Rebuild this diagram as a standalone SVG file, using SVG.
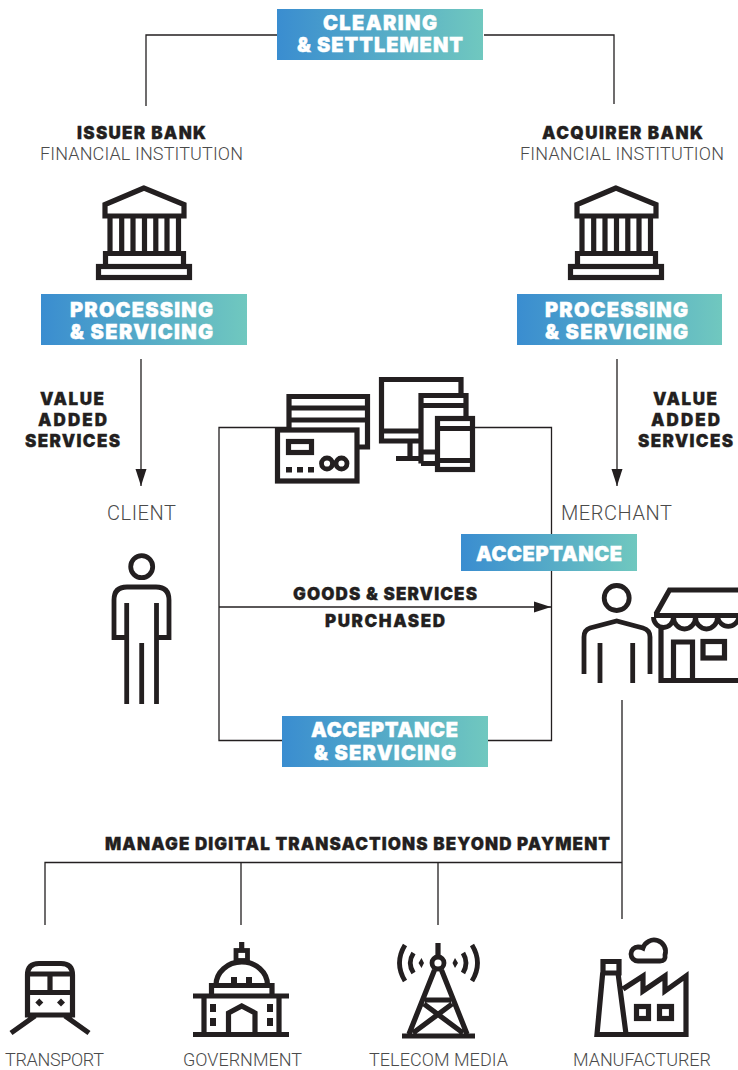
<svg xmlns="http://www.w3.org/2000/svg" xmlns:xlink="http://www.w3.org/1999/xlink" width="738" height="1070" viewBox="0 0 738 1070">
<style>
.bg{fill:#fff}
.i{fill:none;stroke:#231f20;stroke-width:5.2;stroke-linejoin:miter}
.t{fill:none;stroke:#231f20;stroke-width:4.8}
.f{fill:#231f20;stroke:none}
.c{fill:none;stroke:#231f20;stroke-width:1.3}
.w{font-family:"Inter","Liberation Sans",sans-serif;font-weight:900;font-size:20px;fill:#fff;stroke:#fff;stroke-width:.4;text-anchor:start}
.k{font-family:"Inter","Liberation Sans",sans-serif;font-weight:900;font-size:17px;fill:#231f20;stroke:#231f20;stroke-width:.3;text-anchor:start}
.l{font-family:"Roboto","Liberation Sans",sans-serif;font-weight:300;font-size:18px;fill:#4a4a4a;text-anchor:start}
</style>
<defs>
<linearGradient id="g" x1="0" y1="0" x2="1" y2="0"><stop offset="0" stop-color="#3a8dd0"/><stop offset="1" stop-color="#70c8bf"/></linearGradient>
<marker id="a" viewBox="0 0 17 12" refX="17" refY="6" markerWidth="17" markerHeight="12" markerUnits="userSpaceOnUse" orient="auto"><path d="M0 .5L17 6L0 11.500Z" fill="#231f20"/></marker>
<g id="bank">
<path class="i" d="M144 188L105 204.500V216H184V204.500Z"/>
<path class="i" d="M110 216V253M121.700 216V253M133 216V253M144.500 216V253M155.800 216V253M167 216V253M178.500 216V253"/>
<path class="i" d="M105.500 266V253.500H183.500V266"/>
<rect class="i" x="98.500" y="266.500" width="91" height="11"/>
</g>
</defs>
<rect class="bg" width="738" height="1070"/>

<g id="connectors">
<path class="c" d="M146 106V35H277M484 35H614V104"/>
<path class="c" d="M141 359V486" marker-end="url(#a)"/>
<path class="c" d="M617 359V486" marker-end="url(#a)"/>
<path class="c" d="M290 427.500H219V740.500H282M488 740.500H551.500V427.500H474"/>
<path class="c" d="M219 607H551" marker-end="url(#a)"/>
<path class="c" d="M622 700V919M45 925V862.500H622M241 862.500V925M438 862.500V925"/>
</g>

<g id="clearing-settlement">
<rect x="277" y="9" width="206" height="51" fill="url(#g)"/>
<text class="w" x="323" y="30" textLength="114">CLEARING</text>
<text class="w" x="297" y="52" textLength="166">&amp; SETTLEMENT</text>
</g>

<g id="issuer-bank">
<text class="k" x="77" y="138.500" textLength="129">ISSUER BANK</text>
<text class="l" x="40" y="159.500" textLength="203">FINANCIAL INSTITUTION</text>
<use xlink:href="#bank" href="#bank"/>
</g>
<g id="acquirer-bank">
<text class="k" x="542" y="138.500" textLength="161">ACQUIRER BANK</text>
<text class="l" x="520" y="159.500" textLength="204">FINANCIAL INSTITUTION</text>
<use xlink:href="#bank" href="#bank" x="472"/>
</g>

<g id="processing-left">
<rect x="41" y="294" width="206" height="51" fill="url(#g)"/>
<text class="w" x="70" y="316.500" textLength="143">PROCESSING</text>
<text class="w" x="70" y="339" textLength="143">&amp; SERVICING</text>
</g>
<g id="processing-right">
<rect x="517" y="294" width="205" height="51" fill="url(#g)"/>
<text class="w" x="545" y="316.500" textLength="143">PROCESSING</text>
<text class="w" x="545" y="339" textLength="143">&amp; SERVICING</text>
</g>

<g id="value-left">
<text class="k" x="40" y="404.500" textLength="64">VALUE</text>
<text class="k" x="38" y="425.500" textLength="69">ADDED</text>
<text class="k" x="25" y="446.500" textLength="95">SERVICES</text>
</g>
<g id="value-right">
<text class="k" x="653" y="404.500" textLength="64">VALUE</text>
<text class="k" x="651" y="425.500" textLength="69">ADDED</text>
<text class="k" x="638" y="446.500" textLength="95">SERVICES</text>
</g>

<g id="cards-devices">
<path class="i" d="M289 428V396.500H367.500V447H358M289 408H367.500M289 420H367.500"/>
<rect x="277.500" y="430" width="79.500" height="51" fill="#fff" stroke="#231f20" stroke-width="5.200"/>
<rect class="i" x="288.500" y="441.500" width="23" height="11"/>
<path class="f" d="M286 467h6v5.500h-6zM297 467h6v5.500h-6zM308 467h6v5.500h-6z"/>
<circle class="t" cx="327" cy="463.500" r="5.500"/><circle class="t" cx="341.500" cy="463.500" r="5.500"/>
<path class="i" d="M461 394V379.500H381.500V441H419M381.500 431H419M410 441V458M396 458.500H419"/>
<path class="i" d="M421 463.500V395.500H466V416M421 405.500H466M421 452H437M421 463.500H437"/>
<rect x="437.500" y="418.500" width="35" height="51" fill="none" stroke="#231f20" stroke-width="5.200"/>
<path class="i" d="M437.500 428.500H472.500M437.500 460.500H472.500"/>
</g>

<g id="client">
<text class="l" style="font-size:20px" x="107" y="520" textLength="69">CLIENT</text>
<circle class="t" cx="141.700" cy="566.700" r="11"/>
<path class="t" d="M126.700 603V704M141.700 643V704M156.500 603V704M126.700 637.500H114V600Q114 587 127 587H156Q169 587 169 600V637.500H156.500"/>
</g>

<g id="merchant">
<text class="l" style="font-size:20px" x="561" y="520" textLength="111">MERCHANT</text>
<circle class="t" cx="616.700" cy="598" r="12.500"/>
<path class="t" d="M584 674V637Q584 630 590 628L616.700 621L643 628Q650 630 650 637V674M600 643V683M632.700 643V683"/>
<path class="i" d="M656 614L669.500 590H738M654 615.500H738"/>
<path class="t" d="M653.500 617A10 10.500 0 0 0 673.500 617A11 12 0 0 0 695.500 617A11 12 0 0 0 717.500 617A11 12 0 0 0 739 617"/>
<path class="i" d="M661 627V680.500H738"/>
<path class="i" d="M673.500 680V642H692.500V680"/>
<rect class="i" x="703" y="641.500" width="21.500" height="16.500"/>
</g>

<g id="acceptance">
<rect x="461" y="534" width="176" height="37" fill="url(#g)"/>
<text class="w" x="476" y="560.500" textLength="146">ACCEPTANCE</text>
</g>

<g id="goods-services">
<text class="k" x="293" y="599.500" textLength="184">GOODS &amp; SERVICES</text>
<text class="k" x="325" y="626.500" textLength="120">PURCHASED</text>
</g>

<g id="acceptance-servicing">
<rect x="282" y="716" width="206" height="51" fill="url(#g)"/>
<text class="w" x="311" y="737" textLength="147">ACCEPTANCE</text>
<text class="w" x="314" y="759.500" textLength="142">&amp; SERVICING</text>
</g>

<text class="k" id="manage" x="105" y="849.500" textLength="505">MANAGE DIGITAL TRANSACTIONS BEYOND PAYMENT</text>

<g id="transport">
<path class="i" d="M27.500 1015V975Q27.500 963.500 39 963.500H61Q72.500 963.500 72.500 975V1015ZM27.500 974H72.500M27.500 992.500H72.500M50 974V992.500M35 1016L11 1033M65 1016L89 1033"/>
<path class="f" d="M39.300 998.500l4 4-4 4-4-4zM61 998.500l4 4-4 4-4-4z"/>
<text class="l" x="5" y="1066" textLength="99">TRANSPORT</text>
</g>

<g id="government">
<path class="i" d="M241.700 942V950"/>
<rect class="t" x="236" y="950.500" width="11.500" height="10"/>
<path class="i" d="M216 985A25.700 23 0 0 1 267.500 985"/>
<path class="f" d="M231 977h6v7h-6zM246 977h6v7h-6z"/>
<path class="i" d="M211.500 994V985.500H272V994"/>
<path class="i" d="M193 996H289M204 998V1034M279 998V1034M193 1034.500H289"/>
<path class="i" d="M228.500 1034V1013L241.700 1006L255 1013V1034"/>
<path class="f" d="M210 1004h6v8h-6zM210 1018h6v8h-6zM267 1004h6v8h-6zM267 1018h6v8h-6z"/>
<text class="l" x="183" y="1066" textLength="119">GOVERNMENT</text>
</g>

<g id="telecom-media">
<path class="i" d="M438 943V957M434.500 970L409 1034M441.500 970L467 1034M402 1036H475M425 1000H451M424 1004L463 1033M452 1004L413 1033"/>
<circle class="t" cx="438" cy="963" r="6"/>
<path class="t" d="M405 945Q394 963 405 981M413.500 953Q407 963 413.500 973M472 945Q483 963 472 981M463 953Q469 963 463 973"/>
<path class="f" d="M421.500 958l2.500 5-2.500 5-3-5zM455 958l3 5-3 5-2.500-5z"/>
<text class="l" x="369" y="1066" textLength="139">TELECOM MEDIA</text>
</g>

<g id="manufacturer">
<path class="i" d="M602.700 973L597 1034.500H686V976L665 991V976L643 991V976L623 989M603 961.500H619V973H603ZM618 973L626 1034"/>
<rect class="i" x="636.500" y="1006.500" width="12" height="12"/>
<rect class="i" x="659.500" y="1006.500" width="12" height="12"/>
<path class="t" d="M638 961A7 7 0 0 1 638 947Q641 947 643 948A11 11 0 0 1 665 955Q666 961 660 961Z"/>
<text class="l" x="573" y="1066" textLength="138">MANUFACTURER</text>
</g>
</svg>
